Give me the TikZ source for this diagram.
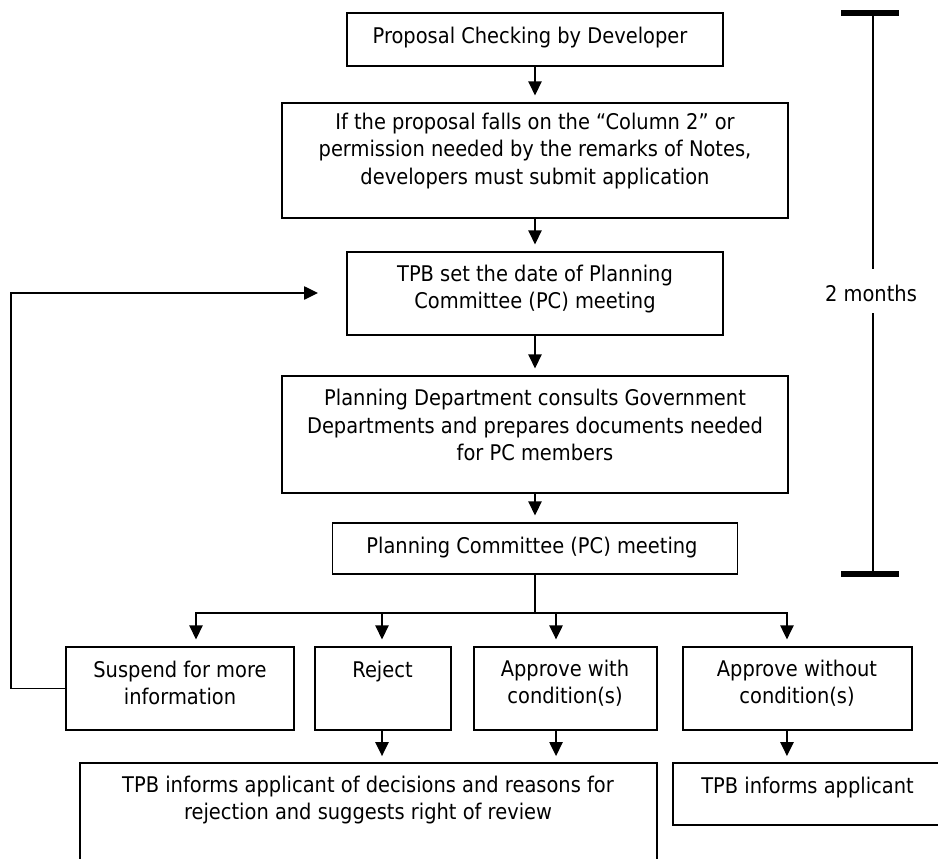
\documentclass[tikz,border=0pt]{standalone}
\usepackage{fontspec}
\setmainfont[FakeStretch=0.9]{DejaVu Sans}
\usetikzlibrary{arrows.meta}
\begin{document}
\begin{tikzpicture}[x=0.75pt,y=-0.75pt,
  box/.style={draw, line width=1.4pt, inner sep=0pt},
  txt/.style={align=center, inner sep=0pt, font=\fontsize{16.2}{20.6}\selectfont},
  arr/.style={line width=1.1pt, -{Triangle[length=10.5pt,width=10pt]}, shorten >=5pt},
  conn/.style={line width=1.1pt},
  bar/.style={line width=3.8pt}]
\clip (0,0) rectangle (938,859);
\fill[white] (0,0) rectangle (938,859);
% main column
\node[box, minimum width=282pt, minimum height=39.75pt] (b1) at (535,39.5) {};
\node[txt] (t1) at (530,38) {Proposal Checking by Developer};
\node[box, minimum width=379.5pt, minimum height=86.25pt] (b2) at (535,160.5) {};
\node[txt] (t2) at (535,151) {If the proposal falls on the “Column 2” or\\permission needed by the remarks of Notes,\\developers must submit application};
\node[box, minimum width=282pt, minimum height=62.25pt] (b3) at (535,293.5) {};
\node[txt] (t3) at (535,289) {TPB set the date of Planning\\Committee (PC) meeting};
\node[box, minimum width=379.5pt, minimum height=87.75pt] (b4) at (535,434.5) {};
\node[txt] (t4) at (535,425) {Planning Department consults Government\\Departments and prepares documents needed\\for PC members};
\node[box, minimum width=303.75pt, minimum height=38.25pt] (b5) at (535,548.5) {};
\node[txt] (t5) at (532,547.5) {Planning Committee (PC) meeting};
% decision boxes
\node[box, minimum width=171pt, minimum height=62.25pt] (susp) at (180,688.5) {};
\node[txt] (ts) at (180,683) {Suspend for more\\information};
\node[box, minimum width=102pt, minimum height=62.25pt] (rej) at (383,688.5) {};
\node[txt] (tr) at (382.5,671.5) {Reject};
\node[box, minimum width=137.25pt, minimum height=62.25pt] (apw) at (565.5,688.5) {};
\node[txt] (ta) at (565,683) {Approve with\\condition(s)};
\node[box, minimum width=171.75pt, minimum height=62.25pt] (apwo) at (797.5,688.5) {};
\node[txt] (tb) at (797,683) {Approve without\\condition(s)};
% result boxes
\node[box, minimum width=432.75pt, minimum height=102.75pt] (inf) at (368.5,831.5) {};
\node[txt] (ti) at (368,800) {TPB informs applicant of decisions and reasons for\\rejection and suggests right of review};
\node[box, minimum width=215.25pt, minimum height=46.5pt] (inf2) at (816.5,794) {};
\node[txt] (ti2) at (807.5,788) {TPB informs applicant};
% main arrows
\draw[arr] (b1.south) -- (b2.north);
\draw[arr] (b2.south) -- (b3.north);
\draw[arr] (b3.south) -- (b4.north);
\draw[arr] (b4.south) -- (b5.north);
% branch
\coordinate (br) at (535,613);
\draw[conn] (b5.south) -- (br);
\draw[arr, shorten >=5pt] (br) -| ([xshift=12pt]susp.north);
\draw[arr, shorten >=5pt] (br) -| ([xshift=-0.75pt]rej.north);
\draw[arr, shorten >=5pt] (br) -| ([xshift=-7.1pt]apw.north);
\draw[arr, shorten >=5pt] (br) -| ([xshift=-7.9pt]apwo.north);
% down to results
\draw[arr, shorten >=4.5pt] ([xshift=-0.75pt]rej.south) coordinate (r1) -- (r1 |- inf.north);
\draw[arr, shorten >=4.5pt] ([xshift=-7.1pt]apw.south) coordinate (r2) -- (r2 |- inf.north);
\draw[arr, shorten >=4.5pt] ([xshift=-7.9pt]apwo.south) coordinate (r3) -- (r3 |- inf2.north);
% feedback loop
\coordinate (fb) at (318,293);
\draw[arr, shorten >=0pt] (susp.west) -- ++(-54,0) |- (fb);
% timeline
\coordinate (tt) at (873,13);
\coordinate (tbm) at (873,574);
\node[txt] (mo) at (871,293) {2 months};
\draw[conn] (tt) -- (873,269);
\draw[conn] (873,313) -- (tbm);
\draw[bar] (841,13) -- (899,13);
\draw[bar] (841,574) -- (899,574);
\end{tikzpicture}
\end{document}
